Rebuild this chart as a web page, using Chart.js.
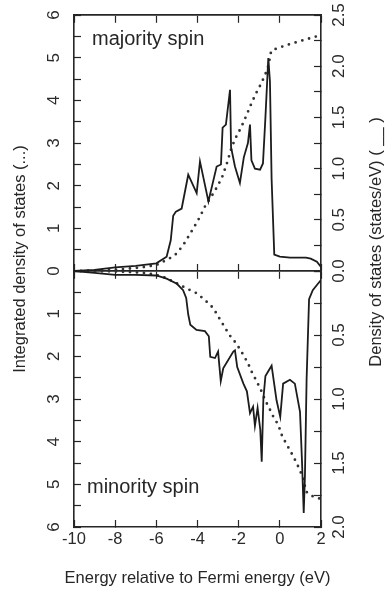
<!DOCTYPE html>
<html>
<head>
<meta charset="utf-8">
<script src="https://cdn.jsdelivr.net/npm/chart.js@4.4.1/dist/chart.umd.min.js"></script>
<style>
  html, body { margin: 0; padding: 0; background: #ffffff; }
  #c { display: block; }
</style>
</head>
<body>
<canvas id="c" width="386" height="592"></canvas>
<script>
// --- datos ---
// majority spin: densidad de estados (eje derecho, superior)
const majDosE = [-10, -9, -8, -7, -6, -5.5, -5.3, -5.18, -5.05, -4.77, -4.45, -4.04, -3.88, -3.47, -3.07, -2.86, -2.78, -2.62, -2.42, -2.37, -2.18, -1.94, -1.75, -1.55, -1.45, -1.38, -1.21, -0.96, -0.82, -0.7, -0.56, -0.48, -0.4, -0.27, 0, 0.5, 1.27, 1.5, 1.8, 2.0];
const majDosV = [0, 0.01, 0.035, 0.05, 0.075, 0.14, 0.3, 0.54, 0.58, 0.61, 0.94, 0.76, 1.07, 0.68, 1.02, 1.04, 1.40, 1.43, 1.77, 1.21, 1.02, 0.86, 1.11, 1.25, 1.43, 1.08, 1.00, 0.99, 1.05, 1.5, 2.08, 1.85, 0.9, 0.16, 0.14, 0.13, 0.13, 0.12, 0.09, 0.04];
// majority spin: densidad integrada (eje izquierdo, superior)
const majIntE = [-10, -9, -8, -7, -6.5, -6, -5.66, -5.34, -5.01, -4.69, -4.45, -4.2, -3.88, -3.64, -3.23, -2.99, -2.78, -2.58, -2.37, -2.18, -1.97, -1.77, -1.56, -1.37, -1.16, -0.93, -0.72, -0.55, -0.42, -0.3, 0, 0.5, 1.0, 1.5, 2.0];
const majIntV = [0, 0.01, 0.03, 0.07, 0.1, 0.14, 0.22, 0.30, 0.41, 0.61, 0.80, 1.0, 1.27, 1.51, 1.82, 2.02, 2.23, 2.51, 2.85, 3.09, 3.28, 3.48, 3.72, 3.94, 4.16, 4.37, 4.59, 4.82, 5.16, 5.19, 5.24, 5.32, 5.39, 5.46, 5.53];
// minority spin: densidad de estados (eje derecho, inferior)
const minDosE = [-10, -9, -8, -7, -6, -5.5, -5.0, -4.7, -4.55, -4.45, -4.35, -4.05, -3.64, -3.45, -3.38, -3.15, -3.0, -2.87, -2.75, -2.26, -2.18, -2.07, -1.77, -1.6, -1.45, -1.3, -1.21, -1.08, -0.95, -0.88, -0.8, -0.7, -0.4, -0.16, 0.02, 0.16, 0.49, 0.73, 0.98, 1.08, 1.16, 1.22, 1.3, 1.42, 1.6, 1.85, 2.0];
const minDosV = [0, 0.015, 0.03, 0.03, 0.035, 0.06, 0.10, 0.15, 0.21, 0.34, 0.42, 0.46, 0.47, 0.51, 0.67, 0.68, 0.63, 0.86, 0.76, 0.63, 0.62, 0.75, 0.88, 0.94, 1.11, 1.06, 1.21, 1.07, 1.24, 1.49, 1.0, 0.82, 0.74, 1.01, 1.14, 0.88, 0.85, 0.88, 1.1, 1.5, 1.89, 1.6, 0.85, 0.22, 0.15, 0.10, 0.07];
// minority spin: densidad integrada (eje izquierdo, inferior)
const minIntE = [-10, -9, -8, -7, -6.5, -6, -5.5, -5.0, -4.53, -4.04, -3.64, -3.23, -2.99, -2.7, -2.45, -2.18, -1.97, -1.77, -1.55, -1.37, -1.12, -0.88, -0.72, -0.51, -0.32, -0.07, 0.09, 0.3, 0.49, 0.7, 0.9, 1.14, 1.27, 1.55, 1.8, 2.0];
const minIntV = [0, 0.005, 0.01, 0.03, 0.05, 0.09, 0.17, 0.29, 0.41, 0.52, 0.68, 0.87, 1.07, 1.3, 1.5, 1.66, 1.81, 1.97, 2.16, 2.36, 2.59, 2.83, 3.02, 3.22, 3.41, 3.61, 3.84, 4.04, 4.2, 4.39, 4.59, 4.86, 5.17, 5.27, 5.32, 5.34];

// ejes
const xTicks = [-10, 2, 2];        // min, max, paso
const intTicks = [0, 6, 0.5];      // integrada: min, max, paso
const dosTopTicks = [0, 2.5, 0.25];
const dosBotTicks = [0, 2.0, 0.25];

const xTitle = 'Energy relative to Fermi energy (eV)';
const yLeftTitle = 'Integrated density of states (...)';
const yRightTitle = 'Density of states (states/eV) ( __ )';
const labelTop = 'majority spin';
const labelBot = 'minority spin';

const FONT = '"Liberation Sans", Arial, Helvetica, sans-serif';
const INK = '#262626';
Chart.defaults.font.family = FONT;
Chart.defaults.color = '#2a2a2a';

const pts = (xs, ys) => xs.map((x, i) => ({ x: x, y: ys[i] }));
const half = v => Math.abs(v * 2 - Math.round(v * 2)) < 1e-6;

function noPad(s) {
    s.paddingTop = 0; s.paddingBottom = 0; s.paddingLeft = 0; s.paddingRight = 0;
}

// eje vertical con marcas hacia dentro y etiquetas giradas
function yAxis(pos, range, opts) {
    return Object.assign({
        type: 'linear',
        position: pos,
        stack: pos,
        min: range[0],
        max: range[1],
        ticks: {
            stepSize: range[2],
            autoSkip: false,
            minRotation: 90,
            maxRotation: 90,
            crossAlign: 'center',
            font: { size: 17 },
            color: '#2a2a2a'
        },
        grid: { drawOnChartArea: false, tickLength: -7, tickColor: INK, tickWidth: 1.2 },
        border: { color: INK, width: 1.6 }
    }, opts);
}

function xAxis(position, tl, border) {
    return {
        type: 'linear',
        position: position,
        min: xTicks[0], max: xTicks[1],
        ticks: { stepSize: xTicks[2], display: false },
        grid: { drawOnChartArea: false, tickLength: tl, tickColor: INK, tickWidth: 1.2 },
        border: { display: border, color: INK, width: 1.8 }
    };
}

const leftTicks = (hideZero) => (v) => (Number.isInteger(v) && !(hideZero && v === 0)) ? String(v) : '';
const rightTicks = (hideZero) => (v) => (half(v) && !(hideZero && v === 0)) ? v.toFixed(1) : '';

const yTop = yAxis('left', intTicks, { weight: 1, afterFit: s => { s.width = 74; noPad(s); } });
yTop.ticks.callback = leftTicks(false);
yTop.ticks.padding = 22;
const yBot = yAxis('left', intTicks, { weight: 0, reverse: true, afterFit: s => { s.width = 74; noPad(s); } });
yBot.ticks.callback = leftTicks(true);
yBot.ticks.padding = 22;
const yTopR = yAxis('right', dosTopTicks, { weight: 0, afterFit: s => { s.width = 65; noPad(s); } });
yTopR.ticks.callback = rightTicks(false);
yTopR.ticks.padding = 13;
const yBotR = yAxis('right', dosBotTicks, { weight: 1, reverse: true, afterFit: s => { s.width = 65; noPad(s); } });
yBotR.ticks.callback = rightTicks(true);
yBotR.ticks.padding = 13;

const xBottom = {
    type: 'linear',
    position: 'bottom',
    min: xTicks[0], max: xTicks[1],
    ticks: { stepSize: xTicks[2], padding: 10, font: { size: 16.5 }, color: '#2a2a2a', maxRotation: 0, autoSkip: false },
    grid: { drawOnChartArea: false, tickLength: -7, tickColor: INK, tickWidth: 1.2 },
    border: { color: INK, width: 1.6 },
    afterFit: s => { s.height = 65; noPad(s); }
};

// títulos y rótulos
const textPlugin = {
    id: 'textos',
    afterDraw(chart) {
        const c = chart.ctx;
        const a = chart.chartArea;
        c.save();
        c.fillStyle = INK;
        c.textAlign = 'left';
        c.textBaseline = 'alphabetic';
        c.font = '20px ' + FONT;
        c.fillText(labelTop, a.left + 18, a.top + 30);
        c.fillText(labelBot, a.left + 13, a.bottom - 34);

        c.font = '16.5px ' + FONT;
        c.textAlign = 'center';
        c.textBaseline = 'middle';
        c.fillText(xTitle, (a.left + a.right) / 2, 578);

        c.save();
        c.translate(20, 259);
        c.rotate(-Math.PI / 2);
        c.fillText(yLeftTitle, 0, 0);
        c.restore();

        c.save();
        c.translate(376, 242);
        c.rotate(-Math.PI / 2);
        c.fillText(yRightTitle, 0, 0);
        c.restore();
        c.restore();
    }
};

const solid = { borderColor: '#1c1c1c', borderWidth: 1.8, pointRadius: 0, tension: 0, fill: false };
const dotted = { borderColor: '#333333', borderWidth: 2.8, borderDash: [0, 7], borderCapStyle: 'round', pointRadius: 0, tension: 0, fill: false };

new Chart(document.getElementById('c'), {
    type: 'line',
    data: {
        datasets: [
            Object.assign({ label: 'DOS majority', data: pts(majDosE, majDosV), xAxisID: 'x', yAxisID: 'yTopR' }, solid),
            Object.assign({ label: 'IDOS majority', data: pts(majIntE, majIntV), xAxisID: 'x', yAxisID: 'yTop' }, dotted),
            Object.assign({ label: 'DOS minority', data: pts(minDosE, minDosV), xAxisID: 'x', yAxisID: 'yBotR' }, solid),
            Object.assign({ label: 'IDOS minority', data: pts(minIntE, minIntV), xAxisID: 'x', yAxisID: 'yBot' }, dotted)
        ]
    },
    options: {
        responsive: false,
        animation: false,
        devicePixelRatio: 1,
        layout: { padding: { top: 15, left: 0, right: 0, bottom: 0 } },
        plugins: { legend: { display: false }, tooltip: { enabled: false } },
        scales: {
            x: xBottom,
            yTop: yTop,
            yBot: yBot,
            yTopR: yTopR,
            yBotR: yBotR,
            xTop: xAxis({ yTop: 6 }, 7, true),
            xMidA: xAxis({ yTop: 0 }, 7, true),
            xMidB: xAxis({ yTop: 0 }, -7, false)
        }
    },
    plugins: [textPlugin]
});
</script>
</body>
</html>
